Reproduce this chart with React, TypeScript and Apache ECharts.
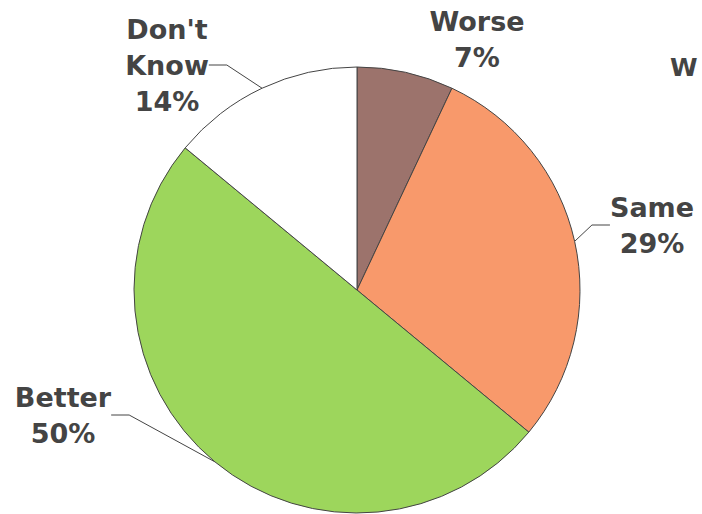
import React, { useEffect, useRef } from "react";
import * as echarts from "echarts";

const categories = ["Worse", "Same", "Better", "Don't\nKnow"];
const values = [7, 29, 50, 14];
const colors = ["#9c736c", "#f8996b", "#9dd65c", "#ffffff"];
// label block centres (layout only)
const labelPos = [
  [477, 39],
  [652, 225],
  [63, 415],
  [167, 65],
];

export default function App() {
  const ref = useRef<HTMLDivElement>(null);
  useEffect(() => {
    const chart = echarts.init(ref.current!, null, { renderer: "svg" });
    chart.setOption({
      animation: false,
      backgroundColor: "#ffffff",
      graphic: [
        {
          type: "text",
          left: 670,
          top: 55,
          style: {
            text: "W",
            fontFamily: "DejaVu Sans",
            fontWeight: "bold",
            fontSize: 25,
            fill: "#444444",
          },
        },
      ],
      series: [
        {
          type: "pie",
          center: [357, 290],
          radius: 223,
          startAngle: 90,
          clockwise: true,
          avoidLabelOverlap: false,
          itemStyle: { borderColor: "#444444", borderWidth: 1 },
          label: {
            show: true,
            position: "outside",
            formatter: (p: any) => `${p.name}\n${p.value}%`,
            fontFamily: "DejaVu Sans",
            fontWeight: "bold",
            fontSize: 27,
            lineHeight: 36,
            color: "#444444",
            align: "center",
          },
          labelLine: {
            show: true,
            length: 10,
            length2: 18,
            lineStyle: { color: "#444444", width: 1 },
          },
          labelLayout: (params: any) => {
            const pos = labelPos[params.dataIndex];
            return {
              x: pos[0],
              y: pos[1],
              align: "center",
              verticalAlign: "middle",
            };
          },
          data: categories.map((c, i) => ({
            name: c,
            value: values[i],
            itemStyle: { color: colors[i] },
            labelLine: i === 0 ? { show: false } : undefined,
          })),
        },
      ],
    });
    return () => chart.dispose();
  }, []);
  return (
    <div
      ref={ref}
      style={{ position: "fixed", left: 0, top: 0, width: 702, height: 514 }}
    />
  );
}
